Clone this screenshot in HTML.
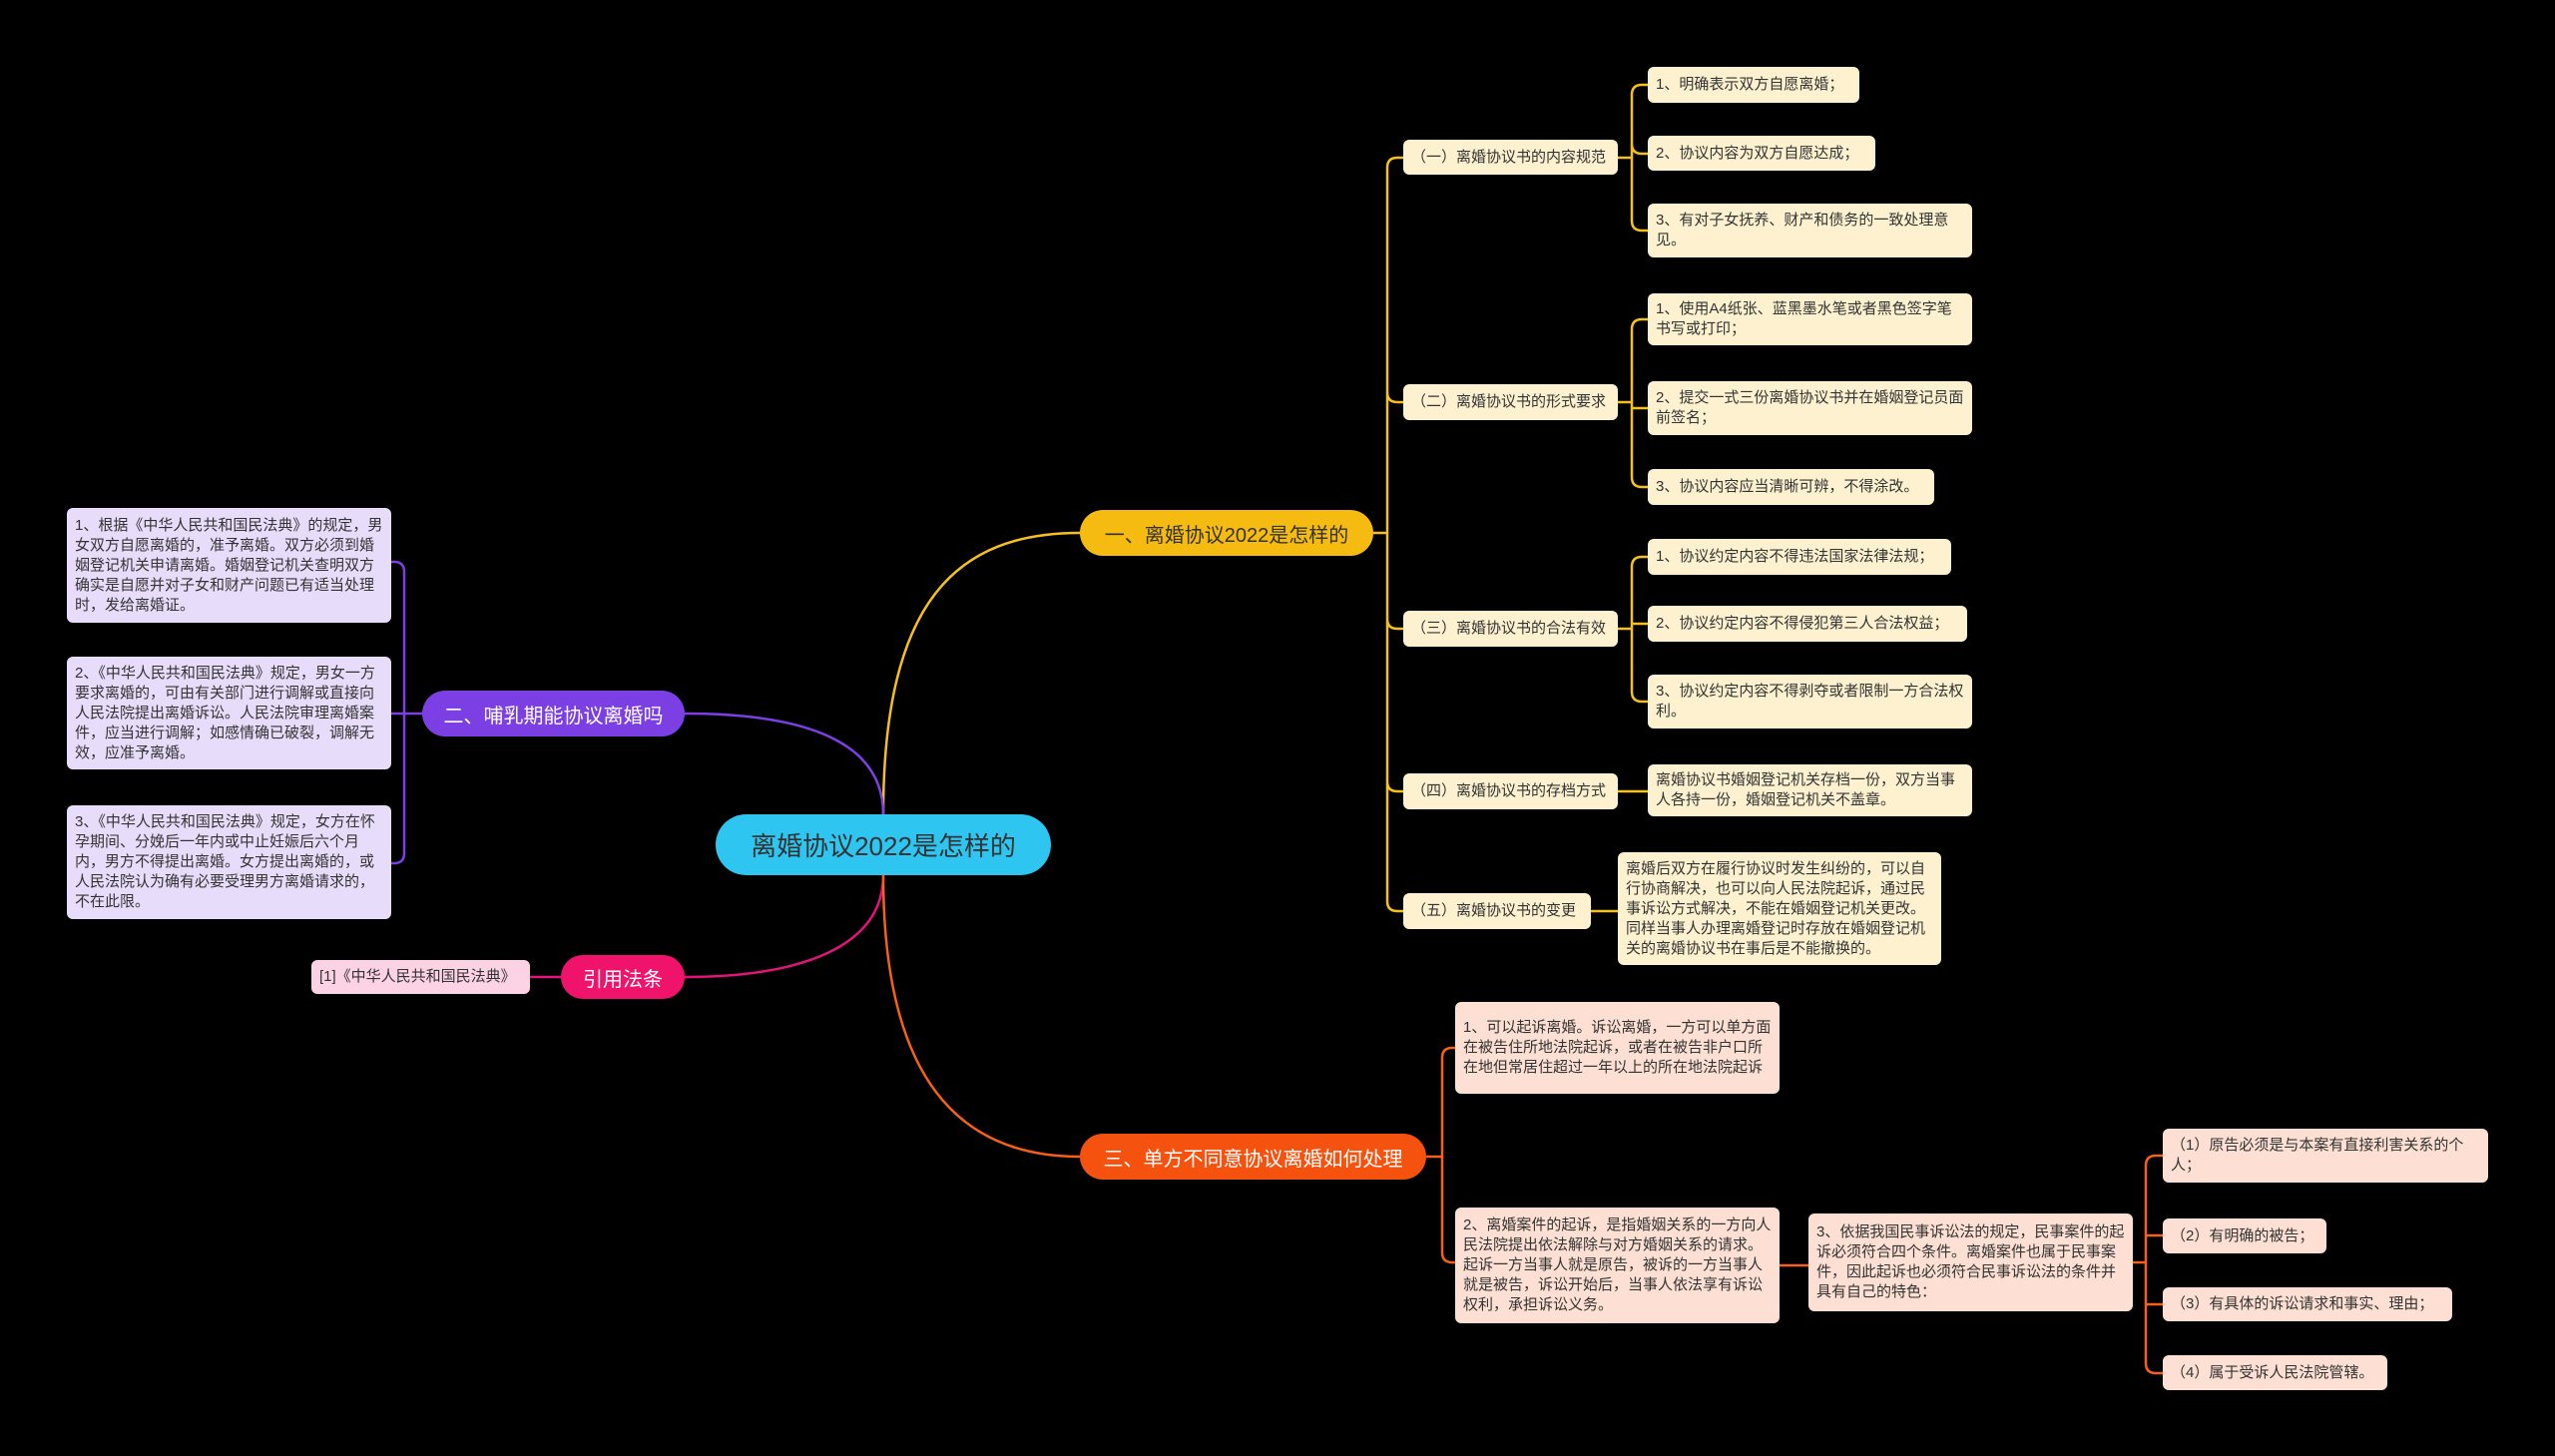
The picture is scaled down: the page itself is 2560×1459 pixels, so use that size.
<!DOCTYPE html>
<html><head><meta charset="utf-8"><style>
*{margin:0;padding:0;box-sizing:border-box}
body{width:2560px;height:1459px;background:#000;position:relative;overflow:hidden;font-family:"Liberation Sans","Noto Sans CJK SC",sans-serif}
.n{position:absolute;border-radius:6px;font-size:15px;letter-spacing:0;line-height:20px;color:#333;padding:4px 8px;display:flex;align-items:center}
.s{white-space:nowrap}
.y{background:#fdf1cf}
.p{background:#fde0d3}
.l{background:#e8dcfb}
.k{background:#fcd3e4}
.b{position:absolute;border-radius:24px;color:#fff;font-size:20px;display:flex;align-items:center;justify-content:center;white-space:nowrap}
svg{position:absolute;left:0;top:0}
</style></head><body>
<svg width="2560" height="1459" fill="none" stroke-width="2.5">
<g stroke="#f5c020">
<path d="M885 816 C885 600 960 534 1082 534"/>
<path d="M1376 534 H1390"/>
<path d="M1390 168 V903 M1390 168 Q1390 158 1400 158 H1406 M1390 393 Q1390 403 1400 403 H1406 M1390 620 Q1390 630 1400 630 H1406 M1390 783 Q1390 793 1400 793 H1406 M1390 903 Q1390 913 1400 913 H1406"/>
<path d="M1621 158 H1635 M1635 95 V221 M1635 95 Q1635 85 1645 85 H1651 M1635 144 Q1635 154 1645 154 H1651 M1635 221 Q1635 231 1645 231 H1651"/>
<path d="M1621 403 H1635 M1635 330 V478 M1635 330 Q1635 320 1645 320 H1651 M1635 409 H1651 M1635 478 Q1635 488 1645 488 H1651"/>
<path d="M1621 630 H1635 M1635 568 V693 M1635 568 Q1635 558 1645 558 H1651 M1635 625 H1651 M1635 693 Q1635 703 1645 703 H1651"/>
<path d="M1621 793 H1651"/><path d="M1594 913 H1621"/>
</g>
<g stroke="#7b3fe4"><path d="M885 816 C885 740 800 715 686 715"/><path d="M423 715 H392 M405 573 V855 M405 573 Q405 563 395 563 H392 M405 855 Q405 865 395 865 H392"/></g>
<path stroke="#e0157a" d="M885 877 C885 950 800 979 686 979 M562 979 H531"/>
<g stroke="#f5601a"><path d="M885 877 C885 1080 960 1159 1082 1159"/>
<path d="M1429 1159 H1445 M1445 1060 V1255 M1445 1060 Q1445 1050 1455 1050 H1458 M1445 1255 Q1445 1265 1455 1265 H1458"/>
<path d="M1783 1268 H1812"/>
<path d="M2137 1265 H2150 M2150 1168 V1366 M2150 1168 Q2150 1158 2160 1158 H2167 M2150 1238 H2167 M2150 1307 H2167 M2150 1366 Q2150 1376 2160 1376 H2167"/></g>
</svg>
<div class="b" style="left:717px;top:816px;width:336px;height:61px;background:#2ec5f0;color:#333;font-size:26px;border-radius:31px">离婚协议2022是怎样的</div>
<div class="b" style="left:1082px;top:511px;width:294px;height:46px;background:#f5bb10;color:#333">一、离婚协议2022是怎样的</div>
<div class="b" style="left:423px;top:692px;width:263px;height:46px;background:#7b3fe4">二、哺乳期能协议离婚吗</div>
<div class="b" style="left:562px;top:957px;width:124px;height:44px;background:#f0136c">引用法条</div>
<div class="b" style="left:1082px;top:1136px;width:347px;height:46px;background:#f5520f">三、单方不同意协议离婚如何处理</div>

<div class="n y s" style="left:1406px;top:140px;width:215px;height:35px">（一）离婚协议书的内容规范</div>
<div class="n y s" style="left:1406px;top:385px;width:215px;height:36px">（二）离婚协议书的形式要求</div>
<div class="n y s" style="left:1406px;top:612px;width:215px;height:36px">（三）离婚协议书的合法有效</div>
<div class="n y s" style="left:1406px;top:775px;width:215px;height:36px">（四）离婚协议书的存档方式</div>
<div class="n y s" style="left:1406px;top:895px;width:188px;height:36px">（五）离婚协议书的变更</div>

<div class="n y s" style="left:1651px;top:67px;width:212px;height:36px">1、明确表示双方自愿离婚；</div>
<div class="n y s" style="left:1651px;top:136px;width:228px;height:35px">2、协议内容为双方自愿达成；</div>
<div class="n y" style="left:1651px;top:204px;width:325px;height:54px">3、有对子女抚养、财产和债务的一致处理意见。</div>
<div class="n y" style="left:1651px;top:294px;width:325px;height:52px">1、使用A4纸张、蓝黑墨水笔或者黑色签字笔书写或打印；</div>
<div class="n y" style="left:1651px;top:382px;width:325px;height:54px">2、提交一式三份离婚协议书并在婚姻登记员面前签名；</div>
<div class="n y s" style="left:1651px;top:470px;width:287px;height:36px">3、协议内容应当清晰可辨，不得涂改。</div>
<div class="n y s" style="left:1651px;top:540px;width:304px;height:36px">1、协议约定内容不得违法国家法律法规；</div>
<div class="n y s" style="left:1651px;top:607px;width:320px;height:36px">2、协议约定内容不得侵犯第三人合法权益；</div>
<div class="n y" style="left:1651px;top:676px;width:325px;height:54px">3、协议约定内容不得剥夺或者限制一方合法权利。</div>
<div class="n y" style="left:1651px;top:766px;width:325px;height:52px">离婚协议书婚姻登记机关存档一份，双方当事人各持一份，婚姻登记机关不盖章。</div>
<div class="n y" style="left:1621px;top:854px;width:324px;height:113px">离婚后双方在履行协议时发生纠纷的，可以自行协商解决，也可以向人民法院起诉，通过民事诉讼方式解决，不能在婚姻登记机关更改。同样当事人办理离婚登记时存放在婚姻登记机关的离婚协议书在事后是不能撤换的。</div>

<div class="n p" style="left:1458px;top:1004px;width:325px;height:92px">1、可以起诉离婚。诉讼离婚，一方可以单方面在被告住所地法院起诉，或者在被告非户口所在地但常居住超过一年以上的所在地法院起诉</div>
<div class="n p" style="left:1458px;top:1210px;width:325px;height:116px">2、离婚案件的起诉，是指婚姻关系的一方向人民法院提出依法解除与对方婚姻关系的请求。起诉一方当事人就是原告，被诉的一方当事人就是被告，诉讼开始后，当事人依法享有诉讼权利，承担诉讼义务。</div>
<div class="n p" style="left:1812px;top:1216px;width:325px;height:98px">3、依据我国民事诉讼法的规定，民事案件的起诉必须符合四个条件。离婚案件也属于民事案件，因此起诉也必须符合民事诉讼法的条件并具有自己的特色：</div>
<div class="n p" style="left:2167px;top:1131px;width:326px;height:54px">（1）原告必须是与本案有直接利害关系的个人；</div>
<div class="n p s" style="left:2167px;top:1221px;width:164px;height:35px">（2）有明确的被告；</div>
<div class="n p s" style="left:2167px;top:1290px;width:290px;height:34px">（3）有具体的诉讼请求和事实、理由；</div>
<div class="n p s" style="left:2167px;top:1358px;width:225px;height:35px">（4）属于受诉人民法院管辖。</div>

<div class="n l" style="left:67px;top:509px;width:325px;height:115px">1、根据《中华人民共和国民法典》的规定，男女双方自愿离婚的，准予离婚。双方必须到婚姻登记机关申请离婚。婚姻登记机关查明双方确实是自愿并对子女和财产问题已有适当处理时，发给离婚证。</div>
<div class="n l" style="left:67px;top:658px;width:325px;height:113px">2、《中华人民共和国民法典》规定，男女一方要求离婚的，可由有关部门进行调解或直接向人民法院提出离婚诉讼。人民法院审理离婚案件，应当进行调解；如感情确已破裂，调解无效，应准予离婚。</div>
<div class="n l" style="left:67px;top:807px;width:325px;height:114px">3、《中华人民共和国民法典》规定，女方在怀孕期间、分娩后一年内或中止妊娠后六个月内，男方不得提出离婚。女方提出离婚的，或人民法院认为确有必要受理男方离婚请求的，不在此限。</div>
<div class="n k s" style="left:312px;top:962px;width:219px;height:34px">[1]《中华人民共和国民法典》</div>
</body></html>
